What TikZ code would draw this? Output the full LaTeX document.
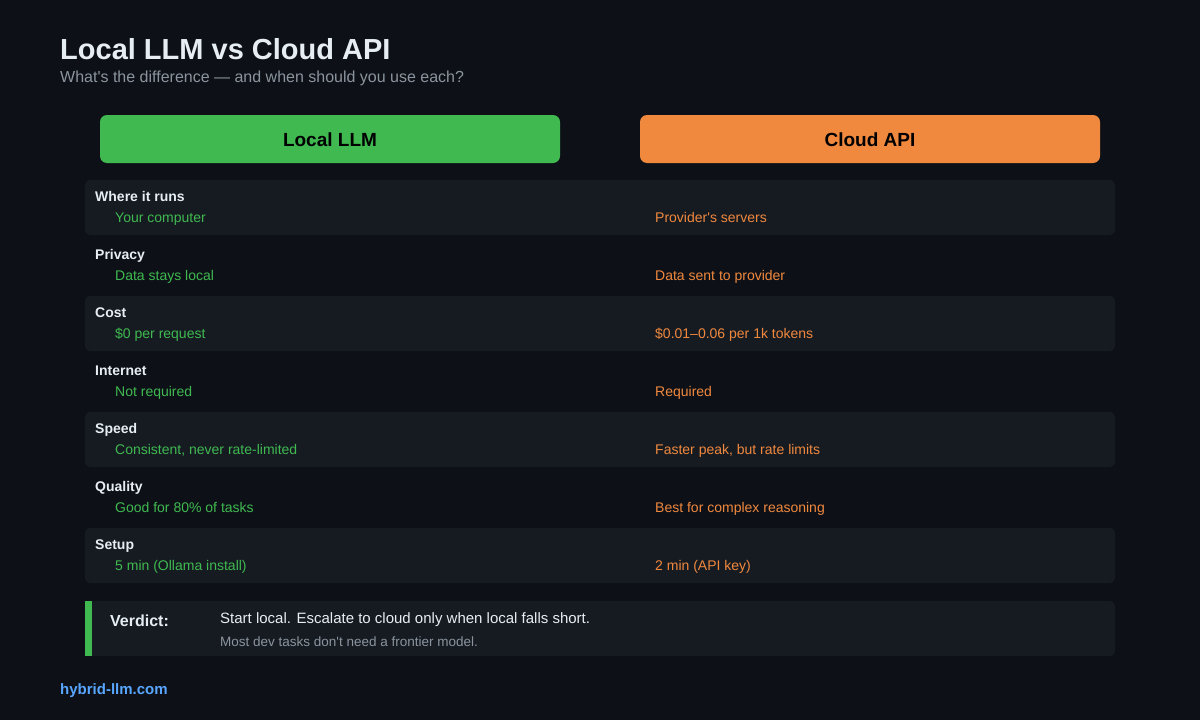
\documentclass[tikz,border=0pt]{standalone}
\usepackage{fontspec}
\setmainfont{Liberation Sans}[Ligatures=TeXOff]
\definecolor{bg}{HTML}{0D1117}
\definecolor{band}{HTML}{161B22}
\definecolor{grn}{HTML}{3FB950}
\definecolor{org}{HTML}{F0883E}
\definecolor{gry}{HTML}{8B949E}
\definecolor{wht}{HTML}{E6EDF3}
\definecolor{lnk}{HTML}{58A6FF}
\tikzset{x=1pt,y=-1pt,
 lbl/.style={anchor=base west,text=wht,font=\fontsize{14}{16}\selectfont\bfseries},
 gv/.style={anchor=base west,text=grn,font=\fontsize{14}{16}\selectfont},
 ov/.style={anchor=base west,text=org,font=\fontsize{14}{16}\selectfont},
 bandbox/.style={fill=band,rounded corners=5pt}}
\begin{document}
\begin{tikzpicture}
\fill[bg] (0,0) rectangle (1200,720);
\useasboundingbox (0,0) rectangle (1200,720);
\node[anchor=base west,text=wht,font=\fontsize{29}{33}\selectfont\bfseries,inner sep=0] (title) at (60,59) {Local LLM vs Cloud API};
\node[anchor=base west,text=gry,font=\fontsize{16}{18}\selectfont,inner sep=0] (sub) at (60,82) {What's the difference — and when should you use each?};
\fill[grn,rounded corners=7pt] (100,115) rectangle (560,163);
\node[text=black,font=\fontsize{19}{22}\selectfont\bfseries] (hl) at (330,140) {Local LLM};
\fill[org,rounded corners=7pt] (640,115) rectangle (1100,163);
\node[text=black,font=\fontsize{19}{22}\selectfont\bfseries] (hc) at (870,140) {Cloud API};
\foreach \i/\l/\g/\o in {0/Where it runs/Your computer/Provider's servers,
 1/Privacy/Data stays local/Data sent to provider,
 2/Cost/\$0 per request/\$0.01–0.06 per 1k tokens,
 3/Internet/Not required/Required,
 4/Speed/{Consistent, never rate-limited}/{Faster peak, but rate limits},
 5/Quality/Good for 80\% of tasks/Best for complex reasoning,
 6/Setup/5 min (Ollama install)/2 min (API key)}{
 \pgfmathsetmacro\yy{180+58*\i}
 \pgfmathtruncatemacro\ev{mod(\i,2)}
 \ifnum\ev=0 \fill[bandbox] (85,\yy) rectangle (1115,\yy+55);\fi
 \node[lbl,inner sep=0] (l\i) at (95,\yy+21) {\l};
 \node[gv,inner sep=0] (g\i) at (115,\yy+42) {\g};
 \node[ov,inner sep=0] (o\i) at (655,\yy+42) {\o};
}
\fill[bandbox] (85,601) rectangle (1115,656);
\fill[grn] (85,601) rectangle (92,656);
\node[anchor=base west,inner sep=0,text=wht,font=\fontsize{16}{18}\selectfont\bfseries] (v) at (110,626) {Verdict:};
\node[anchor=base west,inner sep=0,text=wht,font=\fontsize{15}{17}\selectfont] (v1) at (220,623) {Start local. Escalate to cloud only when local falls short.};
\node[anchor=base west,inner sep=0,text=gry,font=\fontsize{13.5}{15}\selectfont] (v2) at (220,646) {Most dev tasks don't need a frontier model.};
\node[anchor=base west,inner sep=0,text=lnk,font=\fontsize{15}{17}\selectfont\bfseries] (ft) at (60,694) {hybrid-llm.com};
\end{tikzpicture}
\end{document}
